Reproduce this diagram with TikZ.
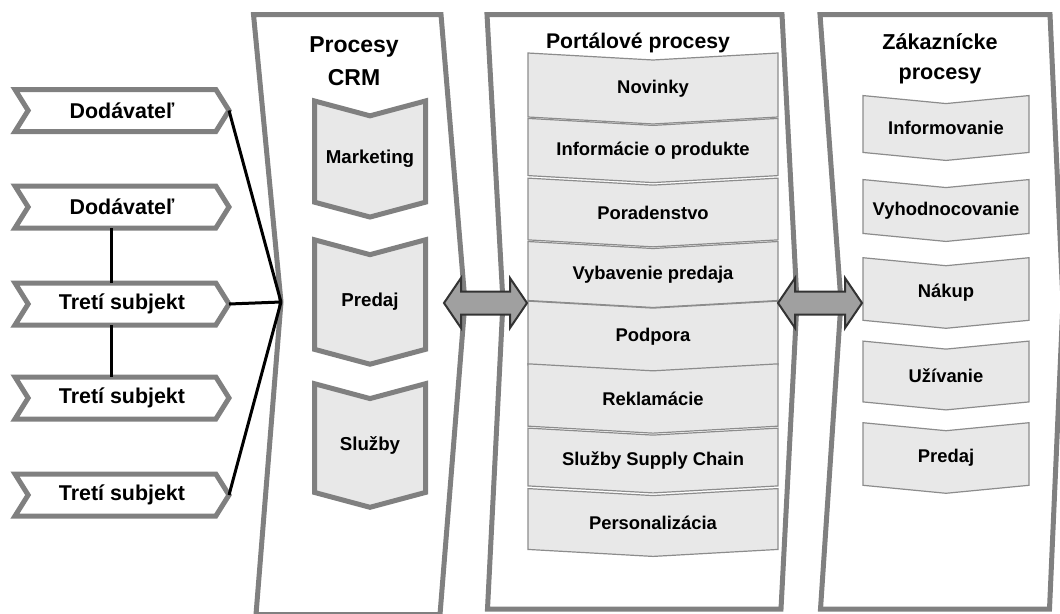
\documentclass[tikz,border=0pt]{standalone}
\usepackage{fontspec}
\setmainfont{Liberation Sans}
\usetikzlibrary{shapes.symbols}

\definecolor{lanegray}{HTML}{808080}
\definecolor{stepgray}{HTML}{8C8C8C}
\definecolor{boxfill}{HTML}{E8E8E8}
\definecolor{arrowfill}{HTML}{A0A0A0}
\definecolor{arrowline}{HTML}{333333}

\begin{document}
\begin{tikzpicture}[x=1pt, y=-1pt,
    every node/.style={inner sep=0pt, outer sep=0pt, align=center},
    partner/.style={signal, signal from=west, signal to=east, signal pointer angle=116,
        draw=lanegray, line width=5pt, fill=white, minimum width=214pt, minimum height=42pt,
        font=\bfseries\fontsize{21.4}{25}\selectfont},
    crmstep/.style={signal, signal from=north, signal to=south, signal pointer angle=150,
        draw=lanegray, line width=5pt, fill=boxfill, minimum width=111pt, minimum height=110pt,
        font=\bfseries\fontsize{18.7}{22}\selectfont},
    portalstep/.style={signal, signal from=north, signal to=south, signal pointer angle=173.6,
        draw=stepgray, line width=1.2pt, fill=boxfill, minimum width=250pt, minimum height=61pt,
        font=\bfseries\fontsize{18.4}{22}\selectfont},
    custstep/.style={signal, signal from=north, signal to=south, signal pointer angle=169,
        draw=stepgray, line width=1.2pt, fill=boxfill, minimum width=166pt, minimum height=60pt,
        font=\bfseries\fontsize{18.4}{22}\selectfont},
    lane/.style={draw=lanegray, line width=5pt, fill=white},
    link/.style={line width=3pt},
    dblarrow/.style={draw=arrowline, line width=2pt, fill=arrowfill}]
    \useasboundingbox (0,0) rectangle (1060,613);

    % Lanes
    \draw[lane] (253.5,14.5) -- (441,14.5) -- (465,302) -- (440,614.5) -- (256,614.5) -- (281,302) -- cycle;
    \draw[lane] (487,14.5) -- (782,14.5) -- (797,302) -- (781,609) -- (487.5,609) -- (503,302) -- cycle;
    \draw[lane] (820,14.5) -- (1050,14.5) -- (1063,302) -- (1049.5,609) -- (820.5,609) -- (841,302) -- cycle;

    % Lane titles
    \node[font=\bfseries\fontsize{23}{33.5}\selectfont] (crmhead) at (354,61) {Procesy\\CRM};
    \node[font=\bfseries\fontsize{21.2}{25}\selectfont] (porthead) at (638,43) {Portálové procesy};
    \node[font=\bfseries\fontsize{21.6}{30}\selectfont] (custhead) at (940,58.5) {Zákaznícke\\procesy};

    % CRM processes
    \node[crmstep] (mkt) at (370,159) {Marketing};
    \node[crmstep] (pred) at (370,302) {Predaj};
    \node[crmstep] (sluz) at (370,445.5) {Služby};

    % Portal processes
    \node[portalstep] (p1) at (653,88.5) {Novinky};
    \node[portalstep] (p2) at (653,150.5) {Informácie o produkte};
    \node[portalstep] (p3) at (653,212.5) {Poradenstvo};
    \node[portalstep] (p4) at (653,274.5) {Vybavenie predaja};
    \node[portalstep] (p5) at (653,336.5) {Podpora};
    \node[portalstep] (p6) at (653,398.5) {Reklamácie};
    \node[portalstep] (p7) at (653,460.5) {Služby Supply Chain};
    \node[portalstep] (p8) at (653,522.5) {Personalizácia};

    % Customer processes
    \node[custstep] (z1) at (946,128) {Informovanie};
    \node[custstep] (z2) at (946,210.5) {Vyhodnocovanie};
    \node[custstep] (z3) at (946,293) {Nákup};
    \node[custstep] (z4) at (946,375.5) {Užívanie};
    \node[custstep] (z5) at (946,458) {Predaj};

    % Double arrows between the lanes
    \draw[dblarrow] (444,303) -- (461,278) -- (461,291.5) -- (510,291.5) -- (510,278) -- (527,303)
        -- (510,328) -- (510,314.5) -- (461,314.5) -- (461,328) -- cycle;
    \draw[dblarrow] (778,303) -- (795,278) -- (795,291.5) -- (845,291.5) -- (845,278) -- (862,303)
        -- (845,328) -- (845,314.5) -- (795,314.5) -- (795,328) -- cycle;

    % Partners
    \node[partner] (d1) at (122,110.5) {Dodávateľ};
    \node[partner] (d2) at (122,207) {Dodávateľ};
    \node[partner] (t1) at (122,304) {Tretí subjekt};
    \node[partner] (t2) at (122,398) {Tretí subjekt};
    \node[partner] (t3) at (122,495) {Tretí subjekt};

    \coordinate (crmhub) at (281,302);
    \draw[link] ([xshift=-11pt]d2.south) -- ([xshift=-11pt]t1.north);
    \draw[link] ([xshift=-11pt]t1.south) -- ([xshift=-11pt]t2.north);
    \draw[link] (d1.east) -- (crmhub);
    \draw[link] (t1.east) -- (crmhub);
    \draw[link] (t3.east) -- (crmhub);
\end{tikzpicture}
\end{document}
